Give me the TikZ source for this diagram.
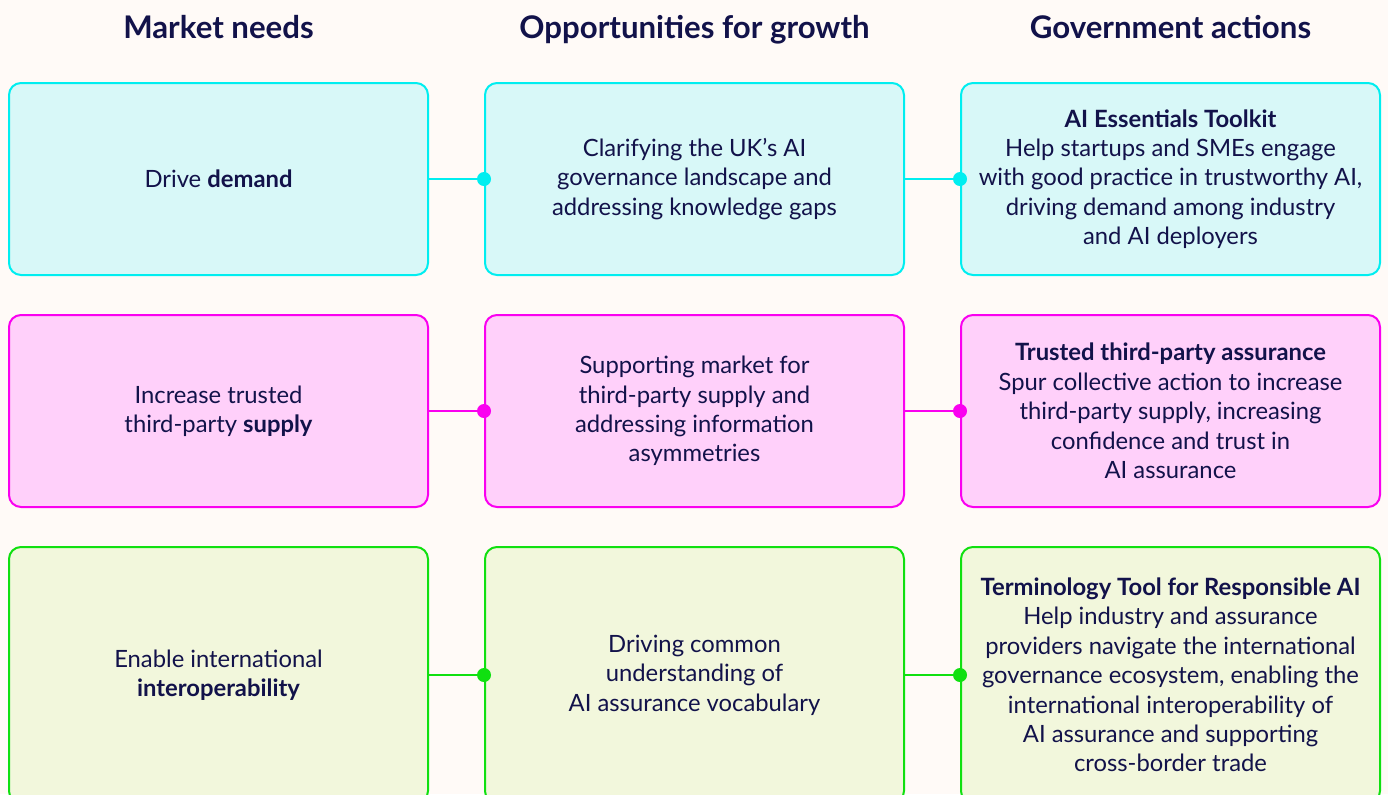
\documentclass[tikz,border=0pt]{standalone}
\usepackage{fontspec}
\setmainfont{Lato}
\usepackage{tikz}

\definecolor{bgcream}{HTML}{FFFAF7}
\definecolor{inkblue}{HTML}{12124A}
\definecolor{cyanline}{HTML}{00EEF0}
\definecolor{cyanfill}{HTML}{D8F8F8}
\definecolor{pinkline}{HTML}{FA00F0}
\definecolor{pinkfill}{HTML}{FFD0FA}
\definecolor{greenline}{HTML}{10E010}
\definecolor{greenfill}{HTML}{F2F7DC}

\tikzset{
  box/.style={draw, rounded corners=6pt, line width=1pt, align=center,
    minimum width=209.5pt, minimum height=96pt, text=inkblue,
    font=\fontsize{11.9}{14.7}\selectfont},
  tallbox/.style={box, minimum height=128pt},
  head/.style={text=inkblue, anchor=base, font=\fontsize{15.6}{18}\selectfont\bfseries},
  link/.style={line width=1pt},
}

\begin{document}
\begin{tikzpicture}[x=0.5pt, y=-0.5pt]
% Canvas
\fill[bgcream] (0,0) rectangle (1388,794);
\useasboundingbox (0,0) rectangle (1388,794);
\clip (0,0) rectangle (1388,794);

% Column heads
\node[head] (hneed) at (218.5, 38) {Market needs};
\node[head] (hopp) at (694.5, 38) {Opportunities for growth};
\node[head] (hact) at (1170.5, 38) {Government actions};

% Row 1
\node[box, draw=cyanline, fill=cyanfill] (need1) at (218.5, 179) {Drive \textbf{demand}};
\node[box, draw=cyanline, fill=cyanfill] (opp1) at (694.5, 179) {Clarifying the UK’s AI\\governance landscape and\\addressing knowledge gaps};
\node[box, draw=cyanline, fill=cyanfill] (act1) at (1170.5, 179) {\textbf{AI Essentials Toolkit}\\Help startups and SMEs engage\\with good practice in trustworthy AI,\\driving demand among industry\\and AI deployers};
\draw[link, cyanline] (need1.east) -- (opp1.west);
\draw[link, cyanline] (opp1.east) -- (act1.west);
\fill[cyanline] (opp1.west) circle (7);
\fill[cyanline] (act1.west) circle (7);

% Row 2
\node[box, draw=pinkline, fill=pinkfill] (need2) at (218.5, 411) {Increase trusted\\third-party \textbf{supply}};
\node[box, draw=pinkline, fill=pinkfill] (opp2) at (694.5, 411) {Supporting market for\\third-party supply and\\addressing information\\asymmetries};
\node[box, draw=pinkline, fill=pinkfill] (act2) at (1170.5, 411) {\textbf{Trusted third-party assurance}\\Spur collective action to increase\\third-party supply, increasing\\confidence and trust in\\AI assurance};
\draw[link, pinkline] (need2.east) -- (opp2.west);
\draw[link, pinkline] (opp2.east) -- (act2.west);
\fill[pinkline] (opp2.west) circle (7);
\fill[pinkline] (act2.west) circle (7);

% Row 3
\node[tallbox, draw=greenline, fill=greenfill] (need3) at (218.5, 675) {Enable international\\\textbf{interoperability}};
\node[tallbox, draw=greenline, fill=greenfill] (opp3) at (694.5, 675) {Driving common\\understanding of\\AI assurance vocabulary};
\node[tallbox, draw=greenline, fill=greenfill] (act3) at (1170.5, 675) {\textbf{Terminology Tool for Responsible AI}\\Help industry and assurance\\providers navigate the international\\governance ecosystem, enabling the\\international interoperability of\\AI assurance and supporting\\cross-border trade};
\draw[link, greenline] (need3.east) -- (opp3.west);
\draw[link, greenline] (opp3.east) -- (act3.west);
\fill[greenline] (opp3.west) circle (7);
\fill[greenline] (act3.west) circle (7);
\end{tikzpicture}
\end{document}
